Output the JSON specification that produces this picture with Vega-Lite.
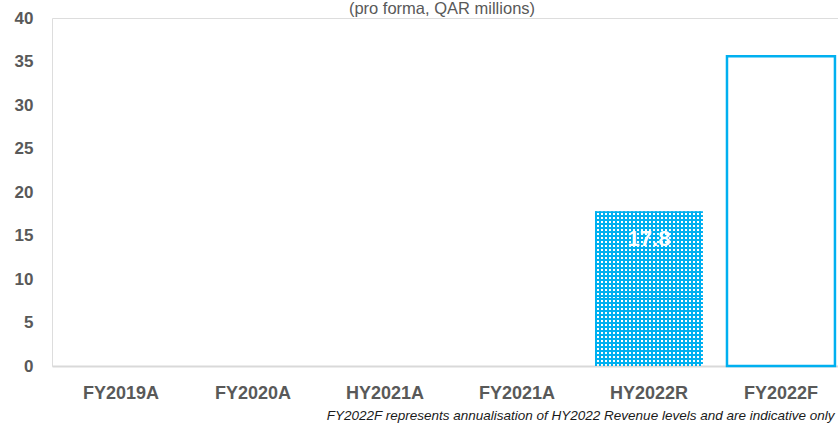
{
  "$schema": "https://vega.github.io/schema/vega-lite/v6.json",
  "autosize": "none",
  "width": 786,
  "height": 348,
  "padding": {"left": 52, "top": 18, "right": 0, "bottom": 59},
  "background": "white",
  "title": {
    "text": "(pro forma, QAR millions)",
    "orient": "top",
    "anchor": "middle",
    "frame": "group",
    "offset": -8,
    "dx": -3,
    "font": "Liberation Sans, Arial, sans-serif",
    "fontSize": 16.5,
    "fontWeight": "normal",
    "color": "#595959"
  },
  "data": {
    "values": [
      {"period": "FY2019A", "revenue": null, "kind": "none", "label": ""},
      {"period": "FY2020A", "revenue": null, "kind": "none", "label": ""},
      {"period": "HY2021A", "revenue": null, "kind": "none", "label": ""},
      {"period": "FY2021A", "revenue": null, "kind": "none", "label": ""},
      {"period": "HY2022R", "revenue": 17.8, "kind": "actual", "label": "17.8"},
      {"period": "FY2022F", "revenue": 35.6, "kind": "forecast", "label": ""}
    ]
  },
  "encoding": {
    "x": {
      "field": "period",
      "type": "nominal",
      "sort": null,
      "scale": {
        "domain": ["FY2019A", "FY2020A", "HY2021A", "FY2021A", "HY2022R", "FY2022F"],
        "range": [0, 798],
        "paddingInner": 0.182,
        "paddingOuter": 0.114
      },
      "axis": {
        "title": "FY2022F represents annualisation of HY2022 Revenue levels and are indicative only",
        "titleAnchor": "end",
        "titleX": 782,
        "titleFontStyle": "italic",
        "titleFontWeight": "normal",
        "titleFontSize": 13.5,
        "titleFont": "Liberation Sans, Arial, sans-serif",
        "titleColor": "#1a1a1a",
        "titlePadding": 6,
        "labelAngle": 0,
        "labelFont": "Liberation Sans, Arial, sans-serif",
        "labelFontSize": 18,
        "labelFontWeight": "bold",
        "labelColor": "#595959",
        "labelPadding": 18,
        "ticks": false,
        "domain": true,
        "domainColor": "#D9D9D9",
        "domainWidth": 2,
        "grid": false
      }
    },
    "y": {
      "field": "revenue",
      "type": "quantitative",
      "scale": {"domain": [0, 40], "nice": false, "zero": true},
      "axis": {
        "title": null,
        "values": [0, 5, 10, 15, 20, 25, 30, 35, 40],
        "labelFont": "Liberation Sans, Arial, sans-serif",
        "labelFontSize": 17,
        "labelFontWeight": "bold",
        "labelColor": "#595959",
        "labelPadding": 19,
        "ticks": false,
        "domain": false,
        "grid": false
      }
    }
  },
  "layer": [
    {
      "transform": [{"filter": "datum.kind === 'forecast'"}],
      "mark": {"type": "bar", "fill": "white", "stroke": "#00B0F0", "strokeWidth": 2.5}
    },
    {
      "transform": [{"filter": "datum.kind === 'actual'"}],
      "mark": {
        "type": "bar",
        "fill": {
          "gradient": "linear", "x1": 0, "y1": 0, "x2": 1, "y2": 0,
          "stops": [
            {"offset": 0, "color": "#00B0F0"},
            {"offset": 0.0185, "color": "#00B0F0"}, {"offset": 0.0185, "color": "rgba(0,176,240,0)"},
            {"offset": 0.037, "color": "rgba(0,176,240,0)"}, {"offset": 0.037, "color": "#00B0F0"},
            {"offset": 0.0556, "color": "#00B0F0"}, {"offset": 0.0556, "color": "rgba(0,176,240,0)"},
            {"offset": 0.0741, "color": "rgba(0,176,240,0)"}, {"offset": 0.0741, "color": "#00B0F0"},
            {"offset": 0.0926, "color": "#00B0F0"}, {"offset": 0.0926, "color": "rgba(0,176,240,0)"},
            {"offset": 0.1111, "color": "rgba(0,176,240,0)"}, {"offset": 0.1111, "color": "#00B0F0"},
            {"offset": 0.1296, "color": "#00B0F0"}, {"offset": 0.1296, "color": "rgba(0,176,240,0)"},
            {"offset": 0.1481, "color": "rgba(0,176,240,0)"}, {"offset": 0.1481, "color": "#00B0F0"},
            {"offset": 0.1667, "color": "#00B0F0"}, {"offset": 0.1667, "color": "rgba(0,176,240,0)"},
            {"offset": 0.1852, "color": "rgba(0,176,240,0)"}, {"offset": 0.1852, "color": "#00B0F0"},
            {"offset": 0.2037, "color": "#00B0F0"}, {"offset": 0.2037, "color": "rgba(0,176,240,0)"},
            {"offset": 0.2222, "color": "rgba(0,176,240,0)"}, {"offset": 0.2222, "color": "#00B0F0"},
            {"offset": 0.2407, "color": "#00B0F0"}, {"offset": 0.2407, "color": "rgba(0,176,240,0)"},
            {"offset": 0.2593, "color": "rgba(0,176,240,0)"}, {"offset": 0.2593, "color": "#00B0F0"},
            {"offset": 0.2778, "color": "#00B0F0"}, {"offset": 0.2778, "color": "rgba(0,176,240,0)"},
            {"offset": 0.2963, "color": "rgba(0,176,240,0)"}, {"offset": 0.2963, "color": "#00B0F0"},
            {"offset": 0.3148, "color": "#00B0F0"}, {"offset": 0.3148, "color": "rgba(0,176,240,0)"},
            {"offset": 0.3333, "color": "rgba(0,176,240,0)"}, {"offset": 0.3333, "color": "#00B0F0"},
            {"offset": 0.3519, "color": "#00B0F0"}, {"offset": 0.3519, "color": "rgba(0,176,240,0)"},
            {"offset": 0.3704, "color": "rgba(0,176,240,0)"}, {"offset": 0.3704, "color": "#00B0F0"},
            {"offset": 0.3889, "color": "#00B0F0"}, {"offset": 0.3889, "color": "rgba(0,176,240,0)"},
            {"offset": 0.4074, "color": "rgba(0,176,240,0)"}, {"offset": 0.4074, "color": "#00B0F0"},
            {"offset": 0.4259, "color": "#00B0F0"}, {"offset": 0.4259, "color": "rgba(0,176,240,0)"},
            {"offset": 0.4444, "color": "rgba(0,176,240,0)"}, {"offset": 0.4444, "color": "#00B0F0"},
            {"offset": 0.463, "color": "#00B0F0"}, {"offset": 0.463, "color": "rgba(0,176,240,0)"},
            {"offset": 0.4815, "color": "rgba(0,176,240,0)"}, {"offset": 0.4815, "color": "#00B0F0"},
            {"offset": 0.5, "color": "#00B0F0"}, {"offset": 0.5, "color": "rgba(0,176,240,0)"},
            {"offset": 0.5185, "color": "rgba(0,176,240,0)"}, {"offset": 0.5185, "color": "#00B0F0"},
            {"offset": 0.537, "color": "#00B0F0"}, {"offset": 0.537, "color": "rgba(0,176,240,0)"},
            {"offset": 0.5556, "color": "rgba(0,176,240,0)"}, {"offset": 0.5556, "color": "#00B0F0"},
            {"offset": 0.5741, "color": "#00B0F0"}, {"offset": 0.5741, "color": "rgba(0,176,240,0)"},
            {"offset": 0.5926, "color": "rgba(0,176,240,0)"}, {"offset": 0.5926, "color": "#00B0F0"},
            {"offset": 0.6111, "color": "#00B0F0"}, {"offset": 0.6111, "color": "rgba(0,176,240,0)"},
            {"offset": 0.6296, "color": "rgba(0,176,240,0)"}, {"offset": 0.6296, "color": "#00B0F0"},
            {"offset": 0.6481, "color": "#00B0F0"}, {"offset": 0.6481, "color": "rgba(0,176,240,0)"},
            {"offset": 0.6667, "color": "rgba(0,176,240,0)"}, {"offset": 0.6667, "color": "#00B0F0"},
            {"offset": 0.6852, "color": "#00B0F0"}, {"offset": 0.6852, "color": "rgba(0,176,240,0)"},
            {"offset": 0.7037, "color": "rgba(0,176,240,0)"}, {"offset": 0.7037, "color": "#00B0F0"},
            {"offset": 0.7222, "color": "#00B0F0"}, {"offset": 0.7222, "color": "rgba(0,176,240,0)"},
            {"offset": 0.7407, "color": "rgba(0,176,240,0)"}, {"offset": 0.7407, "color": "#00B0F0"},
            {"offset": 0.7593, "color": "#00B0F0"}, {"offset": 0.7593, "color": "rgba(0,176,240,0)"},
            {"offset": 0.7778, "color": "rgba(0,176,240,0)"}, {"offset": 0.7778, "color": "#00B0F0"},
            {"offset": 0.7963, "color": "#00B0F0"}, {"offset": 0.7963, "color": "rgba(0,176,240,0)"},
            {"offset": 0.8148, "color": "rgba(0,176,240,0)"}, {"offset": 0.8148, "color": "#00B0F0"},
            {"offset": 0.8333, "color": "#00B0F0"}, {"offset": 0.8333, "color": "rgba(0,176,240,0)"},
            {"offset": 0.8519, "color": "rgba(0,176,240,0)"}, {"offset": 0.8519, "color": "#00B0F0"},
            {"offset": 0.8704, "color": "#00B0F0"}, {"offset": 0.8704, "color": "rgba(0,176,240,0)"},
            {"offset": 0.8889, "color": "rgba(0,176,240,0)"}, {"offset": 0.8889, "color": "#00B0F0"},
            {"offset": 0.9074, "color": "#00B0F0"}, {"offset": 0.9074, "color": "rgba(0,176,240,0)"},
            {"offset": 0.9259, "color": "rgba(0,176,240,0)"}, {"offset": 0.9259, "color": "#00B0F0"},
            {"offset": 0.9444, "color": "#00B0F0"}, {"offset": 0.9444, "color": "rgba(0,176,240,0)"},
            {"offset": 0.963, "color": "rgba(0,176,240,0)"}, {"offset": 0.963, "color": "#00B0F0"},
            {"offset": 0.9815, "color": "#00B0F0"}, {"offset": 0.9815, "color": "rgba(0,176,240,0)"},
            {"offset": 1, "color": "rgba(0,176,240,0)"}
          ]
        }
      }
    },
    {
      "transform": [{"filter": "datum.kind === 'actual'"}],
      "mark": {
        "type": "bar",
        "fill": {
          "gradient": "linear", "x1": 0, "y1": 0, "x2": 0, "y2": 1,
          "stops": [
            {"offset": 0, "color": "#00B0F0"},
            {"offset": 0.0128, "color": "#00B0F0"}, {"offset": 0.0128, "color": "rgba(0,176,240,0)"},
            {"offset": 0.0256, "color": "rgba(0,176,240,0)"}, {"offset": 0.0256, "color": "#00B0F0"},
            {"offset": 0.0385, "color": "#00B0F0"}, {"offset": 0.0385, "color": "rgba(0,176,240,0)"},
            {"offset": 0.0513, "color": "rgba(0,176,240,0)"}, {"offset": 0.0513, "color": "#00B0F0"},
            {"offset": 0.0641, "color": "#00B0F0"}, {"offset": 0.0641, "color": "rgba(0,176,240,0)"},
            {"offset": 0.0769, "color": "rgba(0,176,240,0)"}, {"offset": 0.0769, "color": "#00B0F0"},
            {"offset": 0.0897, "color": "#00B0F0"}, {"offset": 0.0897, "color": "rgba(0,176,240,0)"},
            {"offset": 0.1026, "color": "rgba(0,176,240,0)"}, {"offset": 0.1026, "color": "#00B0F0"},
            {"offset": 0.1154, "color": "#00B0F0"}, {"offset": 0.1154, "color": "rgba(0,176,240,0)"},
            {"offset": 0.1282, "color": "rgba(0,176,240,0)"}, {"offset": 0.1282, "color": "#00B0F0"},
            {"offset": 0.141, "color": "#00B0F0"}, {"offset": 0.141, "color": "rgba(0,176,240,0)"},
            {"offset": 0.1538, "color": "rgba(0,176,240,0)"}, {"offset": 0.1538, "color": "#00B0F0"},
            {"offset": 0.1667, "color": "#00B0F0"}, {"offset": 0.1667, "color": "rgba(0,176,240,0)"},
            {"offset": 0.1795, "color": "rgba(0,176,240,0)"}, {"offset": 0.1795, "color": "#00B0F0"},
            {"offset": 0.1923, "color": "#00B0F0"}, {"offset": 0.1923, "color": "rgba(0,176,240,0)"},
            {"offset": 0.2051, "color": "rgba(0,176,240,0)"}, {"offset": 0.2051, "color": "#00B0F0"},
            {"offset": 0.2179, "color": "#00B0F0"}, {"offset": 0.2179, "color": "rgba(0,176,240,0)"},
            {"offset": 0.2308, "color": "rgba(0,176,240,0)"}, {"offset": 0.2308, "color": "#00B0F0"},
            {"offset": 0.2436, "color": "#00B0F0"}, {"offset": 0.2436, "color": "rgba(0,176,240,0)"},
            {"offset": 0.2564, "color": "rgba(0,176,240,0)"}, {"offset": 0.2564, "color": "#00B0F0"},
            {"offset": 0.2692, "color": "#00B0F0"}, {"offset": 0.2692, "color": "rgba(0,176,240,0)"},
            {"offset": 0.2821, "color": "rgba(0,176,240,0)"}, {"offset": 0.2821, "color": "#00B0F0"},
            {"offset": 0.2949, "color": "#00B0F0"}, {"offset": 0.2949, "color": "rgba(0,176,240,0)"},
            {"offset": 0.3077, "color": "rgba(0,176,240,0)"}, {"offset": 0.3077, "color": "#00B0F0"},
            {"offset": 0.3205, "color": "#00B0F0"}, {"offset": 0.3205, "color": "rgba(0,176,240,0)"},
            {"offset": 0.3333, "color": "rgba(0,176,240,0)"}, {"offset": 0.3333, "color": "#00B0F0"},
            {"offset": 0.3462, "color": "#00B0F0"}, {"offset": 0.3462, "color": "rgba(0,176,240,0)"},
            {"offset": 0.359, "color": "rgba(0,176,240,0)"}, {"offset": 0.359, "color": "#00B0F0"},
            {"offset": 0.3718, "color": "#00B0F0"}, {"offset": 0.3718, "color": "rgba(0,176,240,0)"},
            {"offset": 0.3846, "color": "rgba(0,176,240,0)"}, {"offset": 0.3846, "color": "#00B0F0"},
            {"offset": 0.3974, "color": "#00B0F0"}, {"offset": 0.3974, "color": "rgba(0,176,240,0)"},
            {"offset": 0.4103, "color": "rgba(0,176,240,0)"}, {"offset": 0.4103, "color": "#00B0F0"},
            {"offset": 0.4231, "color": "#00B0F0"}, {"offset": 0.4231, "color": "rgba(0,176,240,0)"},
            {"offset": 0.4359, "color": "rgba(0,176,240,0)"}, {"offset": 0.4359, "color": "#00B0F0"},
            {"offset": 0.4487, "color": "#00B0F0"}, {"offset": 0.4487, "color": "rgba(0,176,240,0)"},
            {"offset": 0.4615, "color": "rgba(0,176,240,0)"}, {"offset": 0.4615, "color": "#00B0F0"},
            {"offset": 0.4744, "color": "#00B0F0"}, {"offset": 0.4744, "color": "rgba(0,176,240,0)"},
            {"offset": 0.4872, "color": "rgba(0,176,240,0)"}, {"offset": 0.4872, "color": "#00B0F0"},
            {"offset": 0.5, "color": "#00B0F0"}, {"offset": 0.5, "color": "rgba(0,176,240,0)"},
            {"offset": 0.5128, "color": "rgba(0,176,240,0)"}, {"offset": 0.5128, "color": "#00B0F0"},
            {"offset": 0.5256, "color": "#00B0F0"}, {"offset": 0.5256, "color": "rgba(0,176,240,0)"},
            {"offset": 0.5385, "color": "rgba(0,176,240,0)"}, {"offset": 0.5385, "color": "#00B0F0"},
            {"offset": 0.5513, "color": "#00B0F0"}, {"offset": 0.5513, "color": "rgba(0,176,240,0)"},
            {"offset": 0.5641, "color": "rgba(0,176,240,0)"}, {"offset": 0.5641, "color": "#00B0F0"},
            {"offset": 0.5769, "color": "#00B0F0"}, {"offset": 0.5769, "color": "rgba(0,176,240,0)"},
            {"offset": 0.5897, "color": "rgba(0,176,240,0)"}, {"offset": 0.5897, "color": "#00B0F0"},
            {"offset": 0.6026, "color": "#00B0F0"}, {"offset": 0.6026, "color": "rgba(0,176,240,0)"},
            {"offset": 0.6154, "color": "rgba(0,176,240,0)"}, {"offset": 0.6154, "color": "#00B0F0"},
            {"offset": 0.6282, "color": "#00B0F0"}, {"offset": 0.6282, "color": "rgba(0,176,240,0)"},
            {"offset": 0.641, "color": "rgba(0,176,240,0)"}, {"offset": 0.641, "color": "#00B0F0"},
            {"offset": 0.6538, "color": "#00B0F0"}, {"offset": 0.6538, "color": "rgba(0,176,240,0)"},
            {"offset": 0.6667, "color": "rgba(0,176,240,0)"}, {"offset": 0.6667, "color": "#00B0F0"},
            {"offset": 0.6795, "color": "#00B0F0"}, {"offset": 0.6795, "color": "rgba(0,176,240,0)"},
            {"offset": 0.6923, "color": "rgba(0,176,240,0)"}, {"offset": 0.6923, "color": "#00B0F0"},
            {"offset": 0.7051, "color": "#00B0F0"}, {"offset": 0.7051, "color": "rgba(0,176,240,0)"},
            {"offset": 0.7179, "color": "rgba(0,176,240,0)"}, {"offset": 0.7179, "color": "#00B0F0"},
            {"offset": 0.7308, "color": "#00B0F0"}, {"offset": 0.7308, "color": "rgba(0,176,240,0)"},
            {"offset": 0.7436, "color": "rgba(0,176,240,0)"}, {"offset": 0.7436, "color": "#00B0F0"},
            {"offset": 0.7564, "color": "#00B0F0"}, {"offset": 0.7564, "color": "rgba(0,176,240,0)"},
            {"offset": 0.7692, "color": "rgba(0,176,240,0)"}, {"offset": 0.7692, "color": "#00B0F0"},
            {"offset": 0.7821, "color": "#00B0F0"}, {"offset": 0.7821, "color": "rgba(0,176,240,0)"},
            {"offset": 0.7949, "color": "rgba(0,176,240,0)"}, {"offset": 0.7949, "color": "#00B0F0"},
            {"offset": 0.8077, "color": "#00B0F0"}, {"offset": 0.8077, "color": "rgba(0,176,240,0)"},
            {"offset": 0.8205, "color": "rgba(0,176,240,0)"}, {"offset": 0.8205, "color": "#00B0F0"},
            {"offset": 0.8333, "color": "#00B0F0"}, {"offset": 0.8333, "color": "rgba(0,176,240,0)"},
            {"offset": 0.8462, "color": "rgba(0,176,240,0)"}, {"offset": 0.8462, "color": "#00B0F0"},
            {"offset": 0.859, "color": "#00B0F0"}, {"offset": 0.859, "color": "rgba(0,176,240,0)"},
            {"offset": 0.8718, "color": "rgba(0,176,240,0)"}, {"offset": 0.8718, "color": "#00B0F0"},
            {"offset": 0.8846, "color": "#00B0F0"}, {"offset": 0.8846, "color": "rgba(0,176,240,0)"},
            {"offset": 0.8974, "color": "rgba(0,176,240,0)"}, {"offset": 0.8974, "color": "#00B0F0"},
            {"offset": 0.9103, "color": "#00B0F0"}, {"offset": 0.9103, "color": "rgba(0,176,240,0)"},
            {"offset": 0.9231, "color": "rgba(0,176,240,0)"}, {"offset": 0.9231, "color": "#00B0F0"},
            {"offset": 0.9359, "color": "#00B0F0"}, {"offset": 0.9359, "color": "rgba(0,176,240,0)"},
            {"offset": 0.9487, "color": "rgba(0,176,240,0)"}, {"offset": 0.9487, "color": "#00B0F0"},
            {"offset": 0.9615, "color": "#00B0F0"}, {"offset": 0.9615, "color": "rgba(0,176,240,0)"},
            {"offset": 0.9744, "color": "rgba(0,176,240,0)"}, {"offset": 0.9744, "color": "#00B0F0"},
            {"offset": 0.9872, "color": "#00B0F0"}, {"offset": 0.9872, "color": "rgba(0,176,240,0)"},
            {"offset": 1, "color": "rgba(0,176,240,0)"}
          ]
        }
      }
    },
    {
      "transform": [{"filter": "datum.kind === 'actual'"}],
      "mark": {
        "type": "text",
        "color": "white",
        "font": "Liberation Sans, Arial, sans-serif",
        "fontSize": 22,
        "fontWeight": "bold",
        "baseline": "middle",
        "align": "center",
        "dy": 28
      },
      "encoding": {"text": {"field": "label"}}
    }
  ]
}
